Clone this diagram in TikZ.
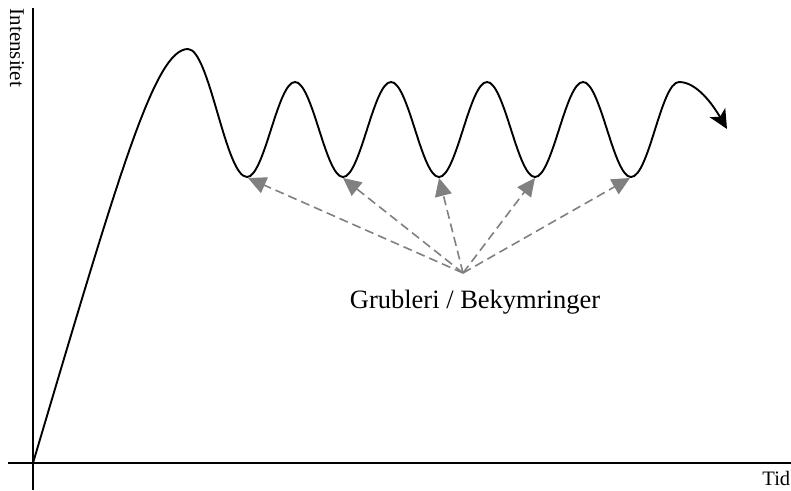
\documentclass[tikz,border=0pt]{standalone}
\usepackage{fontspec}
\setmainfont{Liberation Serif}
\usepackage{tikz}
\usetikzlibrary{positioning,arrows.meta}
\definecolor{worry}{HTML}{808080}

\begin{document}
\begin{tikzpicture}[x=1pt,y=-1pt,line width=1.6pt,
    axis/.style={black,line width=1.6pt},
    curve/.style={black,line width=1.9pt},
    ruminate/.style={worry,line width=1.6pt,dash pattern=on 9pt off 5pt,
      -{Triangle[length=18pt,width=17pt]}}]
      \useasboundingbox (0,0) rectangle (791,490);
      % axes
      \coordinate (o) at (33,463);
      \draw[axis] (33,8) -- (33,490);
      \draw[axis] (8,463) -- (791,463);
      \node[rotate=-90,anchor=base west,inner sep=0pt,font=\fontsize{21}{23}\selectfont] (ylab) at (10,8) {Intensitet};
      \node[anchor=base east,inner sep=0pt,font=\fontsize{20.5}{22}\selectfont] (xlab) at (791,485) {Tid};
      % the curve
      \draw[curve,-{Stealth[length=19pt,width=18pt,inset=5pt]}] (o) .. controls (120,170) and (155,49) .. (188,49)
        .. controls (209.5,49) and (225.5,177) .. (247,177)
        \foreach \x in {247,343,439,535}{
          .. controls (\x+17.5,177) and (\x+30.5,82) .. (\x+48,82)
          .. controls (\x+65.5,82) and (\x+78.5,177) .. (\x+96,177)}
        .. controls (649,177) and (661,82) .. (679,82)
        .. controls (697,82) and (713,105) .. (727,129);
      % troughs and label
      \foreach \n/\x in {1/248, 2/343, 3/439, 4/535, 5/630}
        \coordinate (t\n) at (\x,178);
      \coordinate (src) at (463,273);
      \node[anchor=base,inner sep=0pt,font=\fontsize{26.5}{30}\selectfont] (lbl) at (475,308) {Grubleri / Bekymringer};
      \foreach \n in {1,...,5}
        \draw[ruminate] (src) -- (t\n);
    \end{tikzpicture}
\end{document}
